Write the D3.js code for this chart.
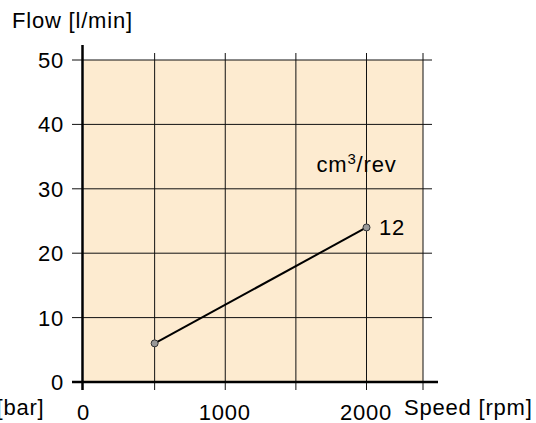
<!DOCTYPE html>
<html><head><meta charset="utf-8">
<script src="https://cdn.jsdelivr.net/npm/d3@7"></script>
<style>
html,body{margin:0;padding:0;background:#fff;}
svg{display:block;font-family:"Liberation Sans",Arial,Helvetica,sans-serif;}
svg text{letter-spacing:0.8px;}
</style></head>
<body>
<svg id="chart" width="536" height="423"></svg>
<script>
const speeds = [500, 2000];
const flows = [6, 24];
const xTickValues = [0, 1000, 2000];
const xGridValues = [500, 1000, 1500, 2000, 2400];
const yTickValues = [0, 10, 20, 30, 40, 50];
const seriesLabel = "12";
const unitLabel = "cm³/rev";

const svg = d3.select("#chart");
const x = d3.scaleLinear().domain([0, 2400]).range([84, 423]);
const y = d3.scaleLinear().domain([0, 50]).range([382, 60]);

// background
svg.append("rect")
  .attr("x", x(0)).attr("y", y(50))
  .attr("width", x(2400) - x(0)).attr("height", y(0) - y(50))
  .attr("fill", "#fdebd0");

// horizontal grid lines / ticks
svg.selectAll("line.hg").data(yTickValues.filter(d => d > 0)).join("line")
  .attr("x1", 72).attr("x2", 432)
  .attr("y1", d => y(d)).attr("y2", d => y(d))
  .attr("stroke", "#111").attr("stroke-width", 1);

// vertical grid lines / ticks
svg.selectAll("line.vg").data(xGridValues).join("line")
  .attr("x1", d => x(d)).attr("x2", d => x(d))
  .attr("y1", 53).attr("y2", 390)
  .attr("stroke", "#111").attr("stroke-width", 1);

// axes lines
svg.append("line").attr("x1", 72).attr("x2", 438).attr("y1", y(0)).attr("y2", y(0))
  .attr("stroke", "#000").attr("stroke-width", 2.5);
svg.append("line").attr("x1", 82.5).attr("x2", 82.5).attr("y1", 45).attr("y2", 390)
  .attr("stroke", "#000").attr("stroke-width", 2.5);

// y tick labels
svg.selectAll("text.yl").data(yTickValues).join("text")
  .attr("x", 64).attr("y", d => y(d) + 8)
  .attr("text-anchor", "end").attr("font-size", 22).attr("fill", "#000")
  .text(d => d);

// x tick labels
svg.selectAll("text.xl").data(xTickValues).join("text")
  .attr("x", d => x(d) - 0.5).attr("y", 419.5)
  .attr("text-anchor", "middle").attr("font-size", 22).attr("fill", "#000")
  .text(d => d);

// axis titles
svg.append("text").attr("x", 12).attr("y", 28).attr("font-size", 22).attr("fill", "#000")
  .text("Flow [l/min]");
svg.append("text").attr("x", 404).attr("y", 415).attr("font-size", 22).attr("fill", "#000")
  .text("Speed [rpm]");
svg.append("text").attr("x", 44.5).attr("y", 415).attr("text-anchor", "end").attr("font-size", 22).attr("fill", "#000")
  .text("[bar]");

// series line
const pts = speeds.map((s, i) => [s, flows[i]]);
svg.append("path").datum(pts)
  .attr("d", d3.line().x(d => x(d[0])).y(d => y(d[1])))
  .attr("fill", "none").attr("stroke", "#000").attr("stroke-width", 2);
svg.selectAll("circle.pt").data(pts).join("circle")
  .attr("cx", d => x(d[0])).attr("cy", d => y(d[1])).attr("r", 3.5)
  .attr("fill", "#999").attr("stroke", "#333").attr("stroke-width", 1);

// labels
svg.append("text").attr("x", x(2000) + 12.5).attr("y", y(24) + 8)
  .attr("font-size", 22).attr("fill", "#000").text(seriesLabel);
const ul = svg.append("text").attr("x", 316.5).attr("y", 171.5).attr("font-size", 22).attr("fill", "#000");
ul.append("tspan").text("cm");
ul.append("tspan").attr("font-size", 15).attr("dy", -8).text("3");
ul.append("tspan").attr("dy", 8).text("/rev");
</script>
</body></html>
